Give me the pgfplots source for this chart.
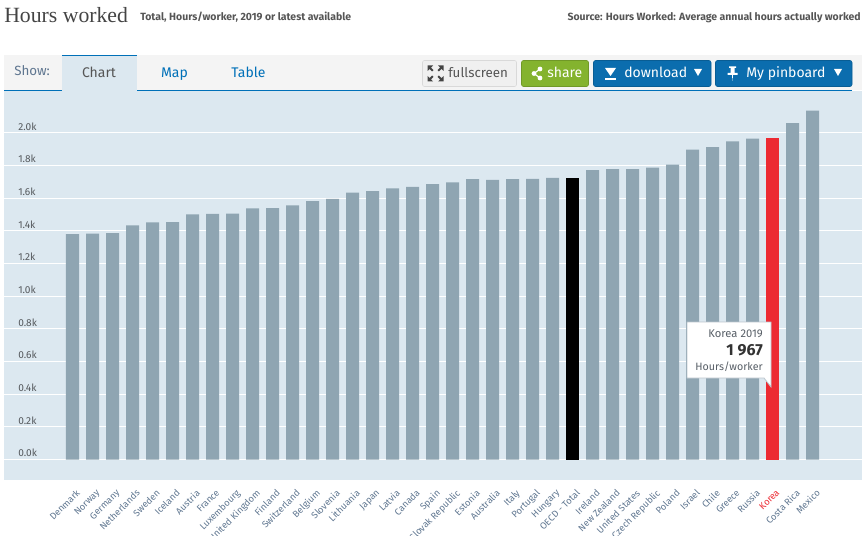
\documentclass[border=0pt]{standalone}
\usepackage{fontspec}
\setmainfont{Fira Sans}
\newfontfamily\titlefont{Liberation Serif}
\usepackage{pgfplots}
\pgfplotsset{compat=1.18}
\definecolor{panel}{HTML}{DCE8F0}
\definecolor{barcol}{HTML}{8FA5B2}
\definecolor{korea}{HTML}{EC2A32}
\definecolor{lab}{HTML}{5F7690}
\definecolor{oecdblue}{HTML}{0070B8}
\definecolor{btnblue}{HTML}{0B6DAE}
\definecolor{btngreen}{HTML}{84B32E}
\definecolor{tabgrey}{HTML}{F4F4F4}
\definecolor{ink}{HTML}{555555}
\begin{document}
% one unit = one pixel of the reference
\begin{tikzpicture}[x=0.75pt,y=-0.75pt]
\clip (0,0) rectangle (863,535);
\path[use as bounding box] (0,0) rectangle (863,535);
% tab bar
\fill[tabgrey] (4,55) rectangle (862,90);
\fill[oecdblue] (4,89.5) rectangle (852,91);

\begin{axis}[
    at={(3pt,-360pt)}, anchor=south west,
    scale only axis,
    width=643.5pt, height=291.75pt,
    xmin=-3.425, xmax=39.475,
    ymin=-125.6, ymax=2257,
    ybar, bar width=9.75pt,
    axis background/.style={fill=panel},
    axis line style={draw=none},
    tick style={draw=none},
    ymajorgrids=true,
    grid style={white, line width=0.8pt},
    ytick={0,200,400,600,800,1000,1200,1400,1600,1800,2000},
    yticklabels={0.0k,0.2k,0.4k,0.6k,0.8k,1.0k,1.2k,1.4k,1.6k,1.8k,2.0k},
    yticklabel style={anchor=base west, xshift=10.5pt, yshift=2pt, inner sep=0pt,
        font=\fontsize{7.6}{9}\selectfont, text=ink!85!lab},
    xtick={0,...,37},
    xticklabels={Denmark,Norway,Germany,Netherlands,Sweden,Iceland,Austria,France,Luxembourg,United Kingdom,Finland,Switzerland,Belgium,Slovenia,Lithuania,Japan,Latvia,Canada,Spain,Slovak Republic,Estonia,Australia,Italy,Portugal,Hungary,OECD - Total,Ireland,New Zealand,United States,Czech Republic,Poland,Israel,Chile,Greece,Russia,\textcolor{korea}{Korea},Costa Rica,Mexico},
    xticklabel style={rotate=45, anchor=north east, inner sep=0pt, xshift=0.1pt, yshift=-3.1pt,
        font=\fontsize{7}{9}\selectfont, text=lab},
    clip=false,
]
\addplot[fill=barcol, draw=none, bar shift=0pt] coordinates {
(0,1380)(1,1384)(2,1386)(3,1434)(4,1452)(5,1454)(6,1501)(7,1505)(8,1506)(9,1538)
(10,1540)(11,1557)(12,1583)(13,1596)(14,1635)(15,1644)(16,1661)(17,1670)(18,1686)(19,1698)
(20,1718)(21,1712)(22,1718)(23,1719)(24,1725)
(26,1772)(27,1779)(28,1779)(29,1788)(30,1806)(31,1898)(32,1914)(33,1949)(34,1965)
(36,2060)(37,2137)};
\addplot[fill=black, draw=none, bar shift=0pt] coordinates {(25,1726)};
\addplot[fill=korea, draw=none, bar shift=0pt] coordinates {(35,1967)};
\end{axis}

% header
\node[anchor=base west, inner sep=0pt, text=ink!80!black] at (4,23) {\titlefont\fontsize{16.3}{18}\selectfont Hours worked};
\node[anchor=base west, inner sep=0pt, text=ink] at (140,21) {\fontsize{7.85}{9}\selectfont\bfseries Total, Hours/worker, 2019 or latest available};
\node[anchor=base east, inner sep=0pt, text=ink] at (861,21) {\fontsize{7.85}{9}\selectfont\bfseries Source: Hours Worked: Average annual hours actually worked};

% tabs
\fill[panel] (62,55) rectangle (137,92);
\fill[oecdblue] (62,55) rectangle (137,56);
\node[anchor=base west, inner sep=0pt, text=lab] at (14,75) {\fontsize{10}{12}\selectfont Show:};
\node[anchor=base, inner sep=0pt, text=ink] at (99,78) {\fontsize{10.5}{12}\selectfont Chart};
\node[anchor=base, inner sep=0pt, text=oecdblue] at (174.5,78) {\fontsize{10.5}{12}\selectfont Map};
\node[anchor=base, inner sep=0pt, text=oecdblue] at (248.5,78) {\fontsize{10.5}{12}\selectfont Table};

% buttons
\draw[rounded corners=1.5pt, draw=black!15, fill=black!6] (422.5,60.5) rectangle (516.5,86.5);
\node[anchor=base west, inner sep=0pt, text=ink] at (448,78) {\fontsize{10}{12}\selectfont fullscreen};
\foreach \sx/\sy in {1/1,-1/1,1/-1,-1/-1}{
  \fill[ink!80!black, shift={(435.5,73.5)}, xscale=\sx, yscale=\sy]
    (8,8) -- (2.5,8) -- (4.6,5.9) -- (2,3.3) -- (3.3,2) -- (5.9,4.6) -- (8,2.5) -- cycle;
}
\draw[rounded corners=1.5pt, draw=btngreen!85!black, fill=btngreen] (521.5,60.5) rectangle (588.5,86.5);
\draw[white, line width=0.9pt] (540,69) -- (534,73.5) -- (540,78);
\fill[white] (540,69) circle (2.4) (534,73.5) circle (2.4) (540,78) circle (2.4);
\node[anchor=base west, inner sep=0pt, text=white] at (547,78) {\fontsize{10.5}{12}\selectfont share};
\draw[rounded corners=1.5pt, draw=btnblue!85!black, fill=btnblue] (593.5,60.5) rectangle (711,86.5);
\fill[white] (605,68) -- (616,68) -- (610.5,76) -- cycle;
\fill[white] (605,78.5) rectangle (616,80);
\node[anchor=base west, inner sep=0pt, text=white] at (624,78) {\fontsize{10.5}{12}\selectfont download};
\fill[white] (694,69) -- (702,69) -- (698,76) -- cycle;
\draw[rounded corners=1.5pt, draw=btnblue!85!black, fill=btnblue] (715.5,60.5) rectangle (852,86.5);
\fill[white] (729,66.5) rectangle (736,68) (730.5,68) rectangle (734.5,73) (727.5,73) -- (737.5,73) -- (737.5,75) -- (727.5,75) -- cycle
  (732,75) -- (733,75) -- (732.5,81) -- cycle;
\node[anchor=base west, inner sep=0pt, text=white] at (746,78) {\fontsize{10.5}{12}\selectfont My pinboard};
\fill[white] (834,69) -- (842,69) -- (838,76) -- cycle;

% tooltip
\draw[fill=white, draw=panel!85!black, line width=0.6pt]
  (687,322) -- (771,322) -- (771,387) -- (764,378) -- (687,378) -- cycle;
\node[anchor=base east, inner sep=0pt, text=ink!70!lab] at (763,337) {\fontsize{8.4}{9}\selectfont Korea 2019};
\node[anchor=base east, inner sep=0pt, text=ink!60!black] at (763,355) {\fontsize{12}{13}\selectfont\bfseries 1 967};
\node[anchor=base east, inner sep=0pt, text=ink!70!lab] at (763,370) {\fontsize{8}{9}\selectfont Hours/worker};
\end{tikzpicture}
\end{document}
